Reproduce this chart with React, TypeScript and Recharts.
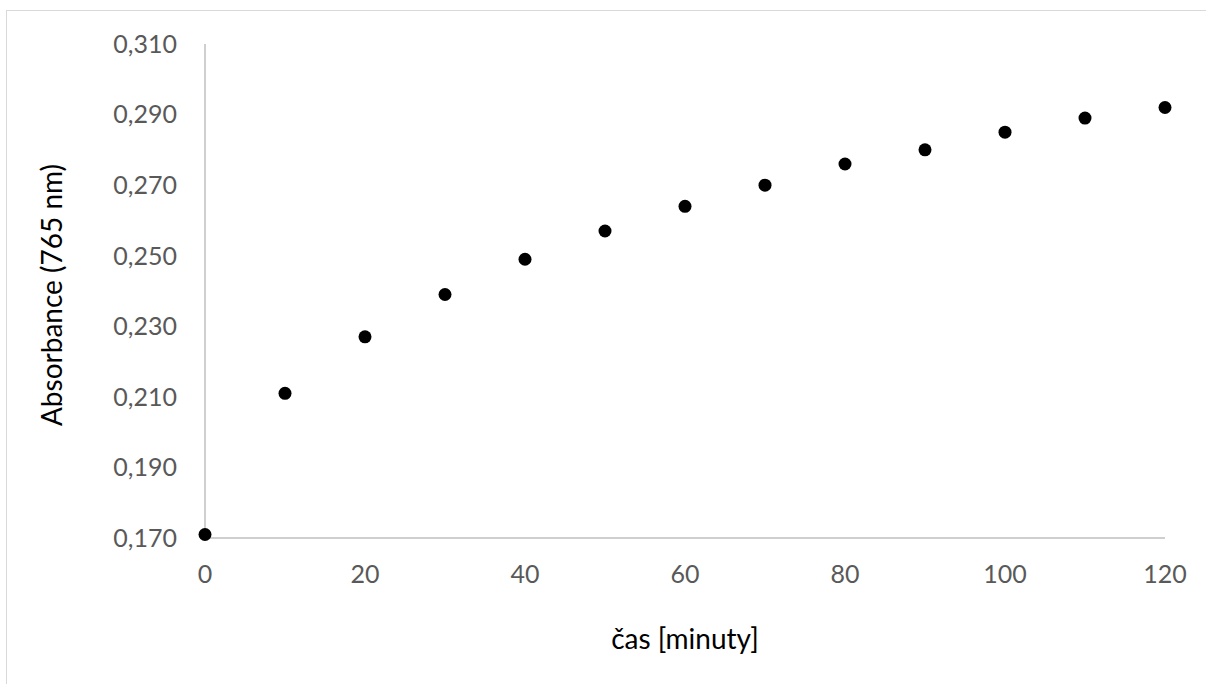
import React from "react";
import { ScatterChart, Scatter, XAxis, YAxis } from "recharts";

const times = [0, 10, 20, 30, 40, 50, 60, 70, 80, 90, 100, 110, 120];
const absorbance = [0.171, 0.211, 0.227, 0.239, 0.249, 0.257, 0.264, 0.27, 0.276, 0.28, 0.285, 0.289, 0.292];
const xTicks = [0, 20, 40, 60, 80, 100, 120];
const yTicks = [0.17, 0.19, 0.21, 0.23, 0.25, 0.27, 0.29, 0.31];

const data = times.map((t, i) => ({ t, a: absorbance[i] }));

const FONT = "Lato, 'Open Sans', sans-serif";
const TICK_SIZE = 25;
const TITLE_SIZE = 28;

const Dot = (props: any) => {
  const { cx, cy } = props;
  return <circle cx={cx} cy={cy} r={6.5} fill="#000" />;
};

const YTitle = (props: any) => {
  const vb = props.viewBox || { x: 105, y: 44, width: 100, height: 494 };
  const cx = vb.x - 54;
  const cy = vb.y + vb.height / 2 + 4;
  return (
    <text
      x={cx}
      y={cy}
      transform={`rotate(-90 ${cx} ${cy})`}
      textAnchor="middle"
      dominantBaseline="central"
      fill="#000"
      fontSize={TITLE_SIZE}
      fontFamily={FONT}
    >
      Absorbance (765 nm)
    </text>
  );
};

const XTitle = (props: any) => {
  const vb = props.viewBox || { x: 205, y: 538, width: 960, height: 60 };
  const cx = vb.x + vb.width / 2;
  const cy = 638;
  return (
    <text x={cx} y={cy} textAnchor="middle" dominantBaseline="central" fill="#000" fontSize={TITLE_SIZE} fontFamily={FONT}>
      čas [minuty]
    </text>
  );
};

export default function App() {
  return (
    <div style={{ position: "absolute", left: 0, top: 0, width: 1206, height: 684, background: "#fff", overflow: "hidden" }}>
      <div
        style={{
          position: "absolute",
          left: 6,
          top: 10,
          width: 1250,
          height: 720,
          border: "1.5px solid #d9d9d9",
          boxSizing: "border-box",
        }}
      />
      <div style={{ position: "absolute", left: 0, top: 0 }}>
        <ScatterChart width={1206} height={684} margin={{ top: 44, right: 41, bottom: 86, left: 105 }}>
          <XAxis
            type="number"
            dataKey="t"
            domain={[0, 120]}
            ticks={xTicks}
            height={60}
            tickLine={false}
            tickSize={0}
            tickMargin={27}
            axisLine={{ stroke: "#bfbfbf", strokeWidth: 1.5 }}
            tick={{ fill: "#595959", fontSize: TICK_SIZE, fontFamily: FONT }}
            label={{ content: <XTitle /> }}
          />
          <YAxis
            type="number"
            dataKey="a"
            domain={[0.17, 0.31]}
            ticks={yTicks}
            width={100}
            tickLine={false}
            tickSize={0}
            tickMargin={28}
            axisLine={{ stroke: "#bfbfbf", strokeWidth: 1.5 }}
            tick={{ fill: "#595959", fontSize: TICK_SIZE, fontFamily: FONT }}
            tickFormatter={(v: number) => v.toFixed(3).replace(".", ",")}
            label={{ content: <YTitle /> }}
          />
          <Scatter data={data} shape={<Dot />} isAnimationActive={false} />
        </ScatterChart>
      </div>
    </div>
  );
}
